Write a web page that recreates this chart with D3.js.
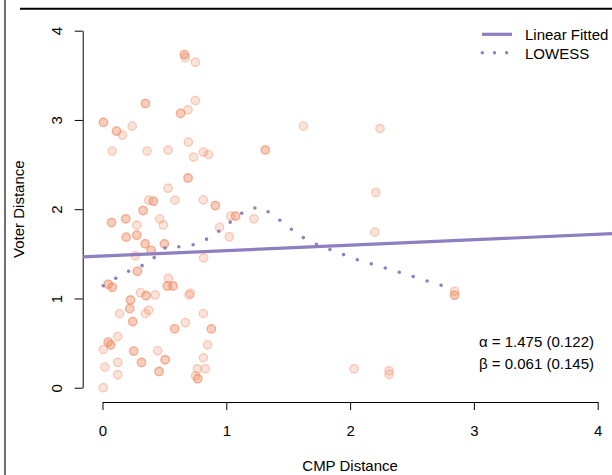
<!DOCTYPE html>
<html>
<head>
<meta charset="utf-8">
<script src="https://cdn.jsdelivr.net/npm/d3@7"></script>
<style>
	body { margin: 0; background: #fff; }
	text { font-family: "Liberation Sans", Arial, sans-serif; }
</style>
</head>
<body>
<script>
// respondents: CMP distance, voter distance, how many sit on the same spot
var cmpDist = [0.661,0.669,0.750,0.347,0.750,0.631,0.691,0.008,0.113,0.161,0.240,0.078,0.360,0.530,0.694,0.736,0.815,0.857,1.623,2.242,
	1.315,0.691,0.530,0.373,0.411,0.586,0.815,0.911,0.328,0.073,0.188,0.277,0.462,0.492,1.035,1.075,0.946,1.024,1.223,2.207,
	2.199,0.191,0.277,0.344,0.500,0.393,0.266,0.817,0.282,0.532,0.046,0.078,0.306,0.352,0.425,0.524,0.570,0.699,0.710,0.226,
	0.220,0.137,0.347,0.373,0.244,0.815,0.669,0.583,0.879,0.123,0.046,0.067,0.006,0.252,0.446,0.849,0.123,0.315,0.506,0.815,
	0.019,0.123,0.457,0.766,0.831,0.752,0.769,0.006,2.844,2.844,2.032,2.315,2.315];
var voterDist = [3.732,3.698,3.646,3.184,3.218,3.073,3.114,2.972,2.875,2.830,2.931,2.651,2.651,2.663,2.752,2.584,2.640,2.611,2.931,2.902,
	2.663,2.350,2.235,2.101,2.089,2.101,2.104,2.041,1.985,1.851,1.892,1.821,1.892,1.821,1.922,1.922,1.796,1.691,1.892,2.187,
	1.743,1.687,1.709,1.612,1.612,1.539,1.478,1.453,1.304,1.226,1.159,1.125,1.065,1.031,1.039,1.140,1.140,1.039,1.058,0.983,
	0.886,0.830,0.830,0.868,0.741,0.830,0.730,0.659,0.659,0.573,0.511,0.480,0.428,0.410,0.413,0.480,0.283,0.283,0.313,0.335,
	0.231,0.145,0.182,0.212,0.212,0.134,0.101,0.000,1.080,1.036,0.212,0.190,0.149];
var overlap = [2,1,1,2,1,2,1,2,2,1,1,1,1,1,1,1,1,1,1,1,
	2,2,1,1,2,1,1,2,2,2,2,1,1,1,1,2,1,1,1,1,
	1,2,2,2,2,2,1,1,2,1,2,2,1,2,1,2,2,1,1,2,
	2,1,1,1,2,1,1,2,2,1,2,2,1,2,1,1,1,2,2,1,
	1,1,2,1,1,1,2,1,1,2,1,1,1];

// lowess curve
var lowessX = [0.006,0.113,0.223,0.339,0.435,0.524,0.645,0.766,0.877,0.977,1.074,1.175,1.285,1.387,1.486,1.583,1.691,1.806,1.922,2.040,2.159,2.277,2.398,2.516,2.637,2.756,2.847];
var lowessY = [1.143,1.232,1.313,1.378,1.475,1.590,1.575,1.612,1.691,1.791,1.905,2.003,2.022,1.925,1.818,1.713,1.628,1.564,1.505,1.441,1.393,1.344,1.294,1.244,1.188,1.140,1.100];

var alpha = 1.475, alphaSE = 0.122, beta = 0.061, betaSE = 0.145;
var xTicks = [0, 1, 2, 3, 4], yTicks = [0, 1, 2, 3, 4];
var legendLabels = ["Linear Fitted", "LOWESS"];
var xTitle = "CMP Distance", yTitle = "Voter Distance";

(function(w){
	var W = 612, H = 475,
		ptCol = "#ef8a62", lineCol = "#8e7fc0";

	var svg = d3.select("body").append("svg").attr("width", W).attr("height", H);

	// frame bits left over from the cropped figure
	svg.append("line").attr("x1", 5).attr("x2", 5).attr("y1", 0).attr("y2", H)
		.attr("stroke", "#555").attr("stroke-width", 1.7);
	svg.append("line").attr("x1", 20).attr("x2", W).attr("y1", 8.7).attr("y2", 8.7)
		.attr("stroke", "#000").attr("stroke-width", 2);

	// R style: limits 0..4 padded by 4%
	var x = d3.scaleLinear().domain([-0.16, 4.16]).range([82.7, 617.5]);
	var y = d3.scaleLinear().domain([-0.16, 4.16]).range([402, 16.4]);

	svg.append("clipPath").attr("id", "plotclip").append("rect")
		.attr("x", x.range()[0]).attr("y", y.range()[1])
		.attr("width", x.range()[1] - x.range()[0]).attr("height", y.range()[0] - y.range()[1]);

	// axes only span the tick range, like axis() in R
	var xa = d3.scaleLinear().domain([0, 4]).range([x(0), x(4)]);
	var ya = d3.scaleLinear().domain([0, 4]).range([y(0), y(4)]);

	var gx = svg.append("g").attr("transform", "translate(0," + y.range()[0] + ")")
		.call(d3.axisBottom(xa).tickValues(xTicks).tickSize(8).tickSizeOuter(0).tickPadding(7).tickFormat(d3.format("d")));
	var gy = svg.append("g").attr("transform", "translate(" + x.range()[0] + ",0)")
		.call(d3.axisLeft(ya).tickValues(yTicks).tickSize(8).tickSizeOuter(0).tickFormat(d3.format("d")));
	[gx, gy].forEach(function(g){
		g.select(".domain").attr("stroke", "#000");
		g.selectAll(".tick line").attr("stroke", "#000");
		g.selectAll(".tick text").attr("fill", "#000").style("font-size", "15px").style("font-family", "Liberation Sans, Arial, sans-serif");
	});
	gx.selectAll(".tick text").attr("dy", null).attr("y", 33.5);
	gy.selectAll(".tick text").attr("x", 0).attr("dy", null).attr("text-anchor", "middle")
		.attr("transform", "translate(-21,0) rotate(-90)");

	svg.append("text").attr("x", x(2)).attr("y", 471).attr("text-anchor", "middle")
		.style("font-size", "15px").text(xTitle);
	svg.append("text").attr("transform", "translate(24," + y(2) + ") rotate(-90)").attr("text-anchor", "middle")
		.style("font-size", "15px").text(yTitle);

	// points, overlapping respondents drawn on top of each other
	var pts = [];
	for (var j = 0; j < cmpDist.length; j++)
		for (var k = 0; k < overlap[j]; k++)
			pts.push({ x: cmpDist[j], y: voterDist[j] });
	svg.append("g").selectAll("circle").data(pts).enter().append("circle")
		.attr("cx", function(d) { return x(d.x); })
		.attr("cy", function(d) { return y(d.y); })
		.attr("r", 4.2)
		.attr("fill", ptCol).attr("fill-opacity", 0.24)
		.attr("stroke", ptCol).attr("stroke-opacity", 0.4).attr("stroke-width", 1.3);

	var plot = svg.append("g").attr("clip-path", "url(#plotclip)");
	plot.append("line")
		.attr("x1", x(-0.16)).attr("y1", y(alpha + beta * -0.16))
		.attr("x2", x(4.16)).attr("y2", y(alpha + beta * 4.16))
		.attr("stroke", lineCol).attr("stroke-width", 3.2);

	var lw = d3.line().x(function(d) { return x(d[0]); }).y(function(d) { return y(d[1]); });
	plot.append("path").datum(d3.zip(lowessX, lowessY)).attr("d", lw)
		.attr("fill", "none").attr("stroke", lineCol).attr("stroke-width", 3.6)
		.attr("stroke-linecap", "round").attr("stroke-dasharray", "0 14.6");

	// legend
	var lg = svg.append("g");
	lg.append("line").attr("x1", 482).attr("x2", 512).attr("y1", 34.3).attr("y2", 34.3)
		.attr("stroke", lineCol).attr("stroke-width", 3.2);
	lg.append("line").attr("x1", 482.3).attr("x2", 512).attr("y1", 52.7).attr("y2", 52.7)
		.attr("stroke", lineCol).attr("stroke-width", 3.4).attr("stroke-linecap", "round").attr("stroke-dasharray", "0 12.2");
	lg.selectAll("text").data(legendLabels).enter().append("text")
		.attr("x", 525).attr("y", function(d, i) { return 40 + i * 19.3; })
		.style("font-size", "15px").text(function(d) { return d; });

	var f = d3.format(".3f");
	var notes = ["\u03b1 = " + f(alpha) + " (" + f(alphaSE) + ")", "\u03b2 = " + f(beta) + " (" + f(betaSE) + ")"];
	svg.append("g").selectAll("text").data(notes).enter().append("text")
		.attr("x", 594).attr("y", function(d, i) { return 347 + i * 21.5; })
		.attr("text-anchor", "end").style("font-size", "15px").text(function(d) { return d; });
})(window);
</script>
</body>
</html>
